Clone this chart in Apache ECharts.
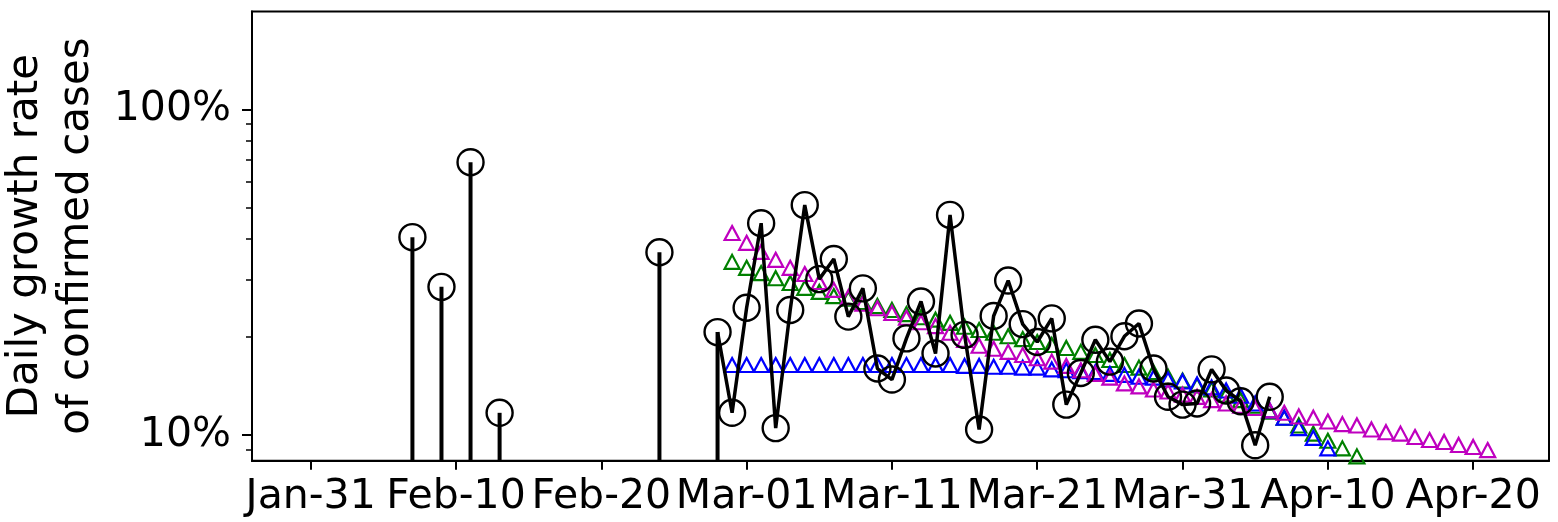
<!DOCTYPE html>
<html><head><meta charset="utf-8">
<script src="https://cdn.jsdelivr.net/npm/echarts@6/dist/echarts.min.js"></script>
<style>html,body{margin:0;padding:0;background:#fff}#c{width:1558px;height:522px}</style>
</head><body><div id="c"></div>
<script>
// x positions are days counted from Jan-31 (day 0)
const xTickDays = [0, 10, 20, 30, 40, 50, 60, 70, 80];
const xTickLabels = ['Jan-31', 'Feb-10', 'Feb-20', 'Mar-01', 'Mar-11', 'Mar-21', 'Mar-31', 'Apr-10', 'Apr-20'];
const yTickValues = [10, 100];
const yMinorTickValues = [9, 20, 30, 40, 50, 60, 70, 80, 90, 200];
const yAxisTitle = 'Daily growth rate\nof confirmed cases';

// observed daily growth rate (%), index 0 = Jan-31; null = no growth / no data
const observedRate = [
  null, null, null, null, null, null, null, 40.5, null, 28.5,
  null, 68.8, null, 11.7, null, null, null, null, null, null,
  null, null, null, null, 36.4, null, null, null, 20.7, 11.7,
  24.6, 44.7, 10.5, 24.2, 50.8, 30.1, 34.7, 23.1, 28.2, 16.0,
  14.8, 19.8, 25.7, 17.8, 47.4, 20.3, 10.4, 23.2, 29.8, 21.9,
  19.3, 22.8, 12.4, 15.5, 19.6, 16.8, 20.1, 22.0, 16.0, 13.1,
  12.4, 12.5, 15.9, 13.7, 12.7, 9.3, 13.1
];

// fitted curves, first value = day 29 (Feb-29)
const fitStartDay = 29;
const fitBlue = [
  16.4, 16.4, 16.4, 16.4, 16.4, 16.4, 16.4, 16.4, 16.4, 16.4,
  16.4, 16.4, 16.4, 16.4, 16.4, 16.4, 16.3, 16.3, 16.2, 16.2,
  16.1, 16.1, 15.9, 15.8, 15.7, 15.6, 15.4, 15.3, 15.1, 15.0,
  14.8, 14.6, 14.3, 14.0, 13.7, 13.2, 12.5, 11.9, 11.3, 10.5,
  9.8, 9.1, 8.3
];
const fitGreen = [
  34.0, 32.6, 31.4, 30.3, 29.3, 28.3, 27.5, 26.7, 26.2, 25.6,
  24.9, 24.2, 23.5, 23.0, 22.6, 22.1, 21.5, 21.0, 20.6, 20.1,
  19.7, 19.3, 18.9, 18.5, 18.0, 17.6, 17.0, 16.4, 16.1, 15.6,
  15.1, 14.7, 14.2, 13.8, 13.3, 12.8, 12.3, 11.8, 11.3, 10.7,
  10.1, 9.6, 9.1, 8.6, 8.0
];
const fitMagenta = [
  41.7, 38.9, 36.5, 34.5, 32.6, 31.2, 29.5, 27.9, 26.5, 25.3,
  24.5, 23.7, 22.9, 22.2, 21.6, 20.6, 19.6, 18.8, 18.4, 18.0,
  17.6, 17.2, 16.8, 16.3, 15.8, 15.4, 15.0, 14.4, 14.1, 13.8,
  13.6, 13.3, 13.1, 12.8, 12.5, 12.3, 12.1, 11.9, 11.7, 11.4,
  11.3, 11.0, 10.8, 10.7, 10.4, 10.2, 10.1, 9.86, 9.65, 9.52,
  9.32, 9.19, 8.99
];

const observedData = observedRate.map((v, d) => [d, v]);
// stems: points adjacent to a zero-growth day drop to the bottom of the log axis
const stemData = [];
observedRate.forEach((v, d) => {
  if (v !== null && (observedRate[d - 1] === null || observedRate[d + 1] === null)) stemData.push([d, v]);
});
const toPairs = arr => arr.map((v, i) => [fitStartDay + i, v]);

const FONT = 'DejaVu Sans';
const chart = echarts.init(document.getElementById('c'), null, { renderer: 'canvas' });

function triSeries(name, color, arr, z) {
  return {
    name, type: 'line', data: toPairs(arr), z,
    symbol: 'triangle', symbolSize: [15, 14],
    itemStyle: { color: 'rgba(0,0,0,0)', borderColor: color, borderWidth: 2.2 },
    lineStyle: { width: 0, opacity: 0 },
    emphasis: { disabled: true }, clip: true
  };
}

chart.setOption({
  animation: false,
  textStyle: { fontFamily: FONT },
  grid: { left: 252, top: 11.5, width: 1297, height: 449.2, show: true, borderColor: '#000', borderWidth: 2,
          backgroundColor: 'transparent', outerBoundsMode: 'none', containLabel: false },
  xAxis: {
    type: 'value', min: -4.04, max: 85.22,
    axisLine: { show: true, onZero: false, lineStyle: { color: '#000', width: 2 } },
    axisTick: { show: true, customValues: xTickDays, length: 9, lineStyle: { color: '#000', width: 2 } },
    axisLabel: {
      customValues: xTickDays, margin: 16, color: '#000', fontSize: 41, fontFamily: FONT,
      formatter: v => xTickLabels[xTickDays.indexOf(Math.round(v))] || ''
    },
    splitLine: { show: false }
  },
  yAxis: [{
    type: 'log', logBase: 10, min: 8.34, max: 199.6,
    name: yAxisTitle, nameLocation: 'middle', nameGap: 147,
    nameTextStyle: { fontSize: 42, color: '#000', fontFamily: FONT, lineHeight: 51 },
    axisLine: { show: true, onZero: false, lineStyle: { color: '#000', width: 2 } },
    axisTick: { show: true, customValues: yTickValues, length: 10, lineStyle: { color: '#000', width: 2 } },
    axisLabel: {
      customValues: yTickValues, margin: 21, color: '#000', fontSize: 41, fontFamily: FONT,
      formatter: v => Math.round(v) + '%'
    },
    splitLine: { show: false }, minorTick: { show: false }
  }, {
    type: 'log', logBase: 10, min: 8.34, max: 199.6, position: 'left', offset: 0,
    axisLine: { show: false, onZero: false },
    axisTick: { show: true, customValues: yMinorTickValues, length: 6, lineStyle: { color: '#000', width: 1.5 } },
    axisLabel: { show: false },
    splitLine: { show: false }
  }],
  series: [
    triSeries('fit-green', '#008000', fitGreen, 2),
    triSeries('fit-blue', '#0000ff', fitBlue, 3),
    triSeries('fit-magenta', '#bf00bf', fitMagenta, 4),
    {
      name: 'stems', type: 'bar', data: stemData, barWidth: 4, z: 5, clip: true,
      itemStyle: { color: '#000' }, emphasis: { disabled: true }
    },
    {
      name: 'observed', type: 'line', data: observedData, z: 6, connectNulls: false,
      symbol: 'circle', symbolSize: 26, showAllSymbol: true,
      itemStyle: { color: 'rgba(0,0,0,0)', borderColor: '#000', borderWidth: 2.4 },
      lineStyle: { color: '#000', width: 3.5 },
      emphasis: { disabled: true }, clip: true
    }
  ]
});
</script></body></html>
